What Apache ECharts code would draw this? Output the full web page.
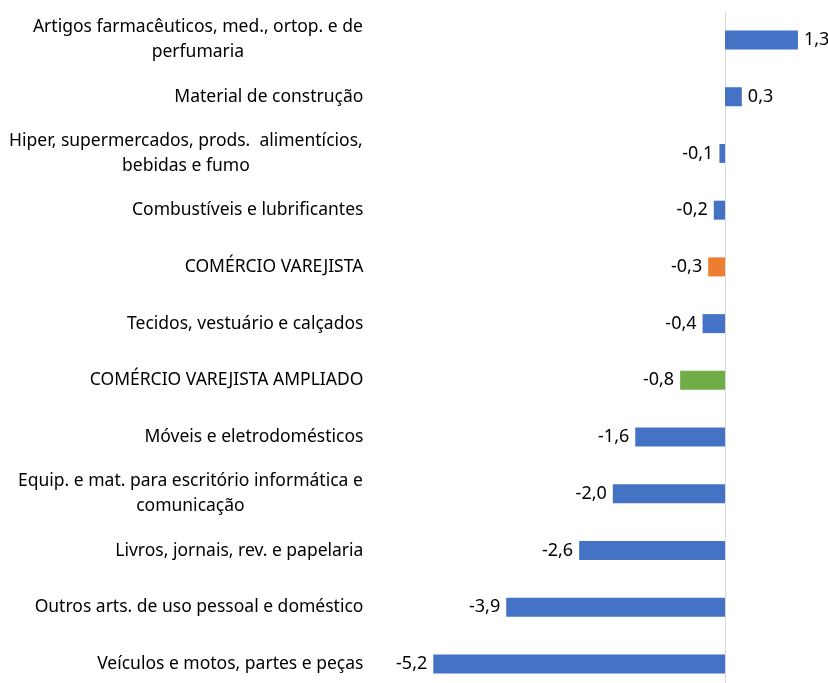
<!DOCTYPE html>
<html>
<head>
<meta charset="utf-8">
<script src="https://cdn.jsdelivr.net/npm/echarts@6/dist/echarts.min.js"></script>
<style>
  html, body { margin: 0; padding: 0; background: #fff; }
  #chart { width: 828px; height: 683px; }
</style>
</head>
<body>
<div id="chart"></div>
<script>
var categories = [
  'Artigos farmacêuticos, med., ortop. e de\nperfumaria',
  'Material de construção',
  'Hiper, supermercados, prods.  alimentícios,\nbebidas e fumo',
  'Combustíveis e lubrificantes',
  'COMÉRCIO VAREJISTA',
  'Tecidos, vestuário e calçados',
  'COMÉRCIO VAREJISTA AMPLIADO',
  'Móveis e eletrodomésticos',
  'Equip. e mat. para escritório informática e\ncomunicação',
  'Livros, jornais, rev. e papelaria',
  'Outros arts. de uso pessoal e doméstico',
  'Veículos e motos, partes e peças'
];
var values = [1.3, 0.3, -0.1, -0.2, -0.3, -0.4, -0.8, -1.6, -2.0, -2.6, -3.9, -5.2];
var barColors = ['#4472C4', '#4472C4', '#4472C4', '#4472C4', '#ED7D31', '#4472C4',
  '#70AD47', '#4472C4', '#4472C4', '#4472C4', '#4472C4', '#4472C4'];

var fontFamily = 'Noto Sans';
var fontSize = 17.5;

// largura de cada rótulo de várias linhas, para centralizar as linhas
var ctx = document.createElement('canvas').getContext('2d');
ctx.font = fontSize + 'px "' + fontFamily + '"';
var rich = {};
categories.forEach(function (c, i) {
  var lines = c.split('\n');
  var w = 0;
  lines.forEach(function (l) { w = Math.max(w, ctx.measureText(l).width); });
  rich['c' + i] = { width: Math.ceil(w) + 1, align: 'center', lineHeight: 25,
    fontFamily: fontFamily, fontSize: fontSize, color: '#000' };
});

var chart = echarts.init(document.getElementById('chart'));
chart.setOption({
  animation: false,
  grid: [
    // grade só para a linha do zero, que vai até o fim da figura
    { left: 388.4, top: 12, width: 437.6, bottom: 0 },
    { left: 388.4, top: 40, width: 437.6, bottom: 19 }
  ],
  xAxis: [
    { gridIndex: 0, type: 'value', min: -6, max: 1.8, show: false },
    { gridIndex: 1, type: 'value', min: -6, max: 1.8, show: false }
  ],
  yAxis: [
    {
      gridIndex: 0,
      type: 'value',
      min: 0,
      max: 1,
      axisLabel: { show: false },
      axisTick: { show: false },
      splitLine: { show: false },
      axisLine: { show: true, onZero: true, lineStyle: { color: '#D9D9D9', width: 1 } }
    },
    {
      gridIndex: 1,
      type: 'category',
      inverse: true,
      boundaryGap: false,
      data: categories,
      axisTick: { show: false },
      axisLine: { show: false },
      axisLabel: {
        margin: 25,
        color: '#000',
        fontFamily: fontFamily,
        fontSize: fontSize,
        lineHeight: 25,
        interval: 0,
        formatter: function (v, i) {
          var lines = v.split('\n');
          if (lines.length === 1) return v;
          return lines.map(function (l) { return '{c' + i + '|' + l + '}'; }).join('\n');
        },
        rich: rich
      }
    }
  ],
  series: [{
    type: 'bar',
    xAxisIndex: 1,
    yAxisIndex: 1,
    barWidth: 19,
    data: values.map(function (v, i) {
      return {
        value: v,
        itemStyle: { color: barColors[i] },
        label: { position: v >= 0 ? 'right' : 'left' }
      };
    }),
    label: {
      show: true,
      distance: 6,
      color: '#000',
      fontFamily: fontFamily,
      fontSize: 18,
      formatter: function (p) { return p.value.toFixed(1).replace('.', ','); }
    }
  }]
});
</script>
</body>
</html>
